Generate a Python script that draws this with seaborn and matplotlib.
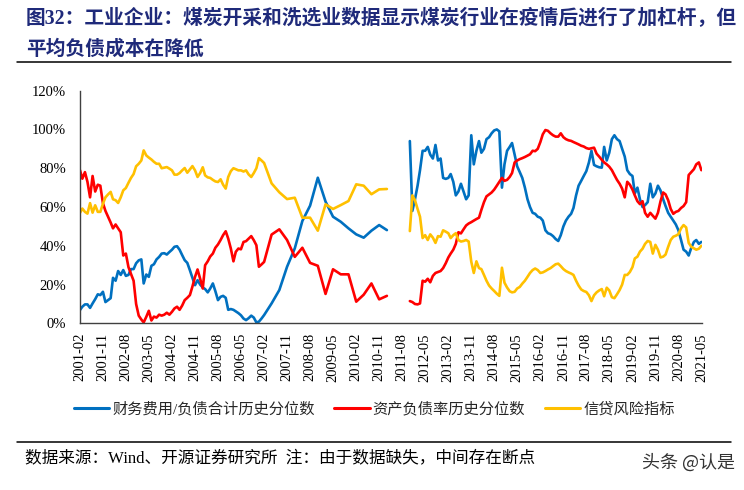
import pandas as pd
import matplotlib
matplotlib.use("Agg")
import matplotlib.pyplot as plt
from matplotlib.lines import Line2D
from matplotlib.ticker import FuncFormatter
import seaborn as sns

# series names and colours
names = ["财务费用/负债合计历史分位数", "资产负债率历史分位数", "信贷风险指标"]
colors = ["#0070C0", "#FF0000", "#FFC000"]

# x values: monthly 2001-02..2007-02, quarterly to 2011-02, gap, monthly 2011-11..2021-05
early_monthly = pd.date_range("2001-02-01", "2007-02-01", freq="MS")
early_quarterly = pd.date_range("2007-05-01", "2011-02-01", freq="3MS")
late_monthly = pd.date_range("2011-11-01", "2021-05-01", freq="MS")
tick_dates = pd.date_range("2001-02-01", "2021-05-01", freq="9MS")

# 财务费用/负债合计历史分位数 (%)
blue_early = [6.9, 8.6, 9.8, 9.8, 8.0, 10.3, 12.5, 15.0, 14.6, 16.3,
              11.0, 12.0, 13.0, 23.5, 22.0, 27.0, 25.0, 27.5, 24.5, 25.0,
              28.0, 28.0, 31.0, 32.5, 33.0, 20.6, 25.2, 24.0, 29.7, 30.5,
              33.0, 34.3, 36.0, 36.2, 35.5, 36.8, 38.0, 39.5, 39.8, 38.0,
              35.2, 32.6, 31.2, 27.4, 23.5, 19.7, 22.3, 20.0, 18.5, 17.7,
              16.0, 18.0, 20.6, 16.6, 12.0, 13.7, 14.2, 13.2, 7.0, 7.4,
              7.0, 6.2, 5.3, 4.2, 2.5, 1.7, 2.7, 4.0, 3.0, 0.5,
              0.9, 2.5, 4.3]
blue_quarterly = [10.3, 17.2, 29.2, 38.7, 52.8, 60.7, 75.1, 62.8,
                  55.0, 52.4, 49.0, 45.9, 44.2, 47.8, 50.7, 48.1]
blue_late = [94, 58, 64, 71, 79, 89, 89, 91, 87, 85,
             92, 84, 85, 75, 74.5, 75, 77, 73, 66, 68,
             72, 68, 64, 66, 97, 82, 89, 94, 88, 90,
             95, 96, 98, 99.5, 100, 99, 70, 82, 89, 91,
             93, 87, 81, 78, 75, 70, 64, 60, 57, 56.5,
             55, 54.5, 53, 48, 46.5, 46, 45, 43.5, 42.5, 45.5,
             50, 53, 55, 56.5, 59.5, 66, 71, 73.5, 76, 78.5,
             83, 89, 81.7, 81, 80.5, 80.3, 91, 84, 88, 95,
             97, 95, 94, 90, 86, 79, 77, 76, 67, 70,
             64, 60, 61, 62.5, 72, 65, 67, 71, 68.5, 64,
             60.5, 57, 55, 53, 51, 48, 43, 38, 37, 35,
             39, 42, 43, 41, 42]

# 资产负债率历史分位数 (%)
red_early = [79, 74.6, 78, 73, 65, 76, 68, 71.5, 71, 62,
             58, 55, 52, 49, 51, 49, 47, 35, 36, 29,
             25.5, 22, 10, 4, 2, 0.5, 3.4, 6.5, 1.5, 3.5,
             3, 4.5, 4, 4.5, 5.5, 4.5, 6, 7.7, 8.6, 7,
             9.2, 12, 13.2, 14.6, 19, 24, 27.8, 23, 18, 30,
             32, 34.5, 36, 39, 40.7, 43, 45.5, 47.5, 43.7, 38.6,
             32, 36.9, 38.6, 38.2, 42, 42.4, 43.7, 45, 42.9, 40.3,
             29.2, 30.4, 31.7]
red_quarterly = [45.8, 48.5, 43.0, 34.3, 39.0, 31.2, 29.7, 15.2,
                 27.9, 25.3, 25.3, 11.2, 14.8, 20.6, 12.4, 14.2]
red_late = [11.5, 11, 10, 9.8, 10.3, 22, 21.5, 23, 21.2, 24.5,
            26, 26.5, 27, 28.5, 31, 34, 36, 38, 41, 47,
            46.4, 48.5, 50.5, 51.5, 52.2, 53, 53.8, 54.5, 58.5, 62.5,
            65.5, 66.5, 67.5, 69, 71, 73, 75, 73.5, 74, 75.5,
            77.5, 83, 84, 84.7, 85.2, 85.8, 86.5, 87.2, 89, 88.8,
            90, 93.5, 97.5, 99.7, 99.3, 98, 97, 96.3, 96.3, 98,
            96, 95, 94.4, 94.1, 93.5, 92.9, 92.3, 91.6, 91.2, 90.4,
            90, 90.3, 90.6, 87.5, 86, 84.3, 83, 82, 80.8, 79,
            76.5, 74, 72, 69.5, 65, 73, 71.5, 69, 66, 63,
            61.5, 63, 57, 55, 57, 55.5, 54, 57, 63, 67.5,
            66.5, 63.5, 59, 56.5, 57.5, 58, 59.5, 60.5, 62.5, 76.5,
            78, 79.5, 82, 83, 79]

# 信贷风险指标 (%)
yellow_early = [57, 59.2, 57.5, 56.6, 62, 57.1, 60.9, 57.5, 57.5, 61.7,
                65, 66.5, 67.8, 64, 63.5, 62.1, 65, 68.6, 69.8, 72.5,
                75, 77, 81, 82.3, 84, 89.2, 86.6, 85.5, 84.5, 83.3,
                82.3, 82.3, 80, 80.3, 80.6, 79.8, 78.9, 76.7, 76.7, 77.5,
                78.9, 80.1, 77.7, 79.4, 81.1, 78.9, 75.5, 77.5, 80.5, 76.3,
                75.3, 75, 74, 73.2, 72.9, 74.3, 71.5, 69.5, 75.5, 78.5,
                80, 79.5, 78.9, 78.9, 78.3, 78.9, 76.8, 75.5, 77.5, 80,
                85.2, 84, 82.7]
yellow_quarterly = [72.2, 67.6, 64.1, 64.8, 54.5, 54.5, 47.8, 61.4,
                    59.0, 61.0, 63.1, 71.7, 71.0, 66.6, 69.1, 69.3]
yellow_late = [47.6, 66, 63.5, 59, 55, 44, 45.5, 43, 45.9, 44.2,
               41.5, 45, 44.7, 48, 47.3, 46.5, 44, 45.5, 46.5, 43,
               42.2, 42.5, 43, 42.2, 31.8, 26, 32, 28.5, 28, 25,
               22, 19.5, 18, 16.7, 15.3, 14.2, 28.7, 21, 18.5, 16.6,
               16, 16.3, 18, 18.8, 20.5, 22, 24, 26, 27.5, 28.3,
               27.5, 26, 26.3, 27, 27.8, 28.5, 29.5, 30.5, 30.8, 29.5,
               28, 27, 26.3, 25.7, 25, 22, 19.5, 17.5, 16.7, 16.2,
               14.5, 11.5, 14.5, 16, 17, 17.7, 14, 18.4, 17, 13.5,
               13, 15, 17.2, 20, 25, 25, 26.5, 29, 33.5, 34.4,
               37, 38.5, 41, 42.5, 42, 36, 40.5, 38, 34, 34.4,
               35.5, 39.5, 43, 44.7, 45.2, 46, 49, 50.7, 49.5, 41.5,
               39.5, 38.7, 38, 38.5, 40]

title_lines = ["图32：工业企业：煤炭开采和洗选业数据显示煤炭行业在疫情后进行了加杠杆，但",
               "平均负债成本在降低"]
source_text = "数据来源：Wind、开源证券研究所  注：由于数据缺失，中间存在断点"
watermark = "头条 @认是"


def build_frame():
    """
    Long table: one row per point, a segment id so the gap is not bridged.
    """
    early_dates = early_monthly.append(early_quarterly)
    series = [(blue_early + blue_quarterly, blue_late),
              (red_early + red_quarterly, red_late),
              (yellow_early + yellow_quarterly, yellow_late)]
    frames = []
    for name, (early, late) in zip(names, series):
        frames.append(pd.DataFrame({"date": early_dates, "value": early,
                                    "series": name, "segment": 1}))
        frames.append(pd.DataFrame({"date": late_monthly, "value": late,
                                    "series": name, "segment": 2}))
    return pd.concat(frames, ignore_index=True)


def main():
    sns.set_style("white")
    plt.rcParams["font.family"] = ["Liberation Serif", "Noto Sans CJK SC"]

    df = build_frame()

    fig = plt.figure(figsize=(7.44, 4.90), dpi=100)
    ax = fig.add_axes([0.1075, 0.340, 0.836, 0.475])

    sns.lineplot(data=df, x="date", y="value", hue="series", units="segment",
                 estimator=None, sort=False, palette=dict(zip(names, colors)),
                 linewidth=1.9, legend=False, ax=ax)

    ax.set_ylim(0, 120)
    ax.set_yticks(range(0, 121, 20))
    ax.yaxis.set_major_formatter(FuncFormatter(lambda v, _: f"{v:.0f}%"))
    ax.set_xlim(pd.Timestamp("2001-02-01"), pd.Timestamp("2021-05-08"))
    ax.set_xticks(tick_dates)
    ax.set_xticklabels([d.strftime("%Y-%m") for d in tick_dates], rotation=90)
    ax.set_xlabel("")
    ax.set_ylabel("")

    for side in ["top", "right"]:
        ax.spines[side].set_visible(False)
    for side in ["left", "bottom"]:
        ax.spines[side].set_color("#404040")
        ax.spines[side].set_linewidth(1.0)
    ax.tick_params(direction="in", length=4, width=1, color="#404040",
                   labelsize=10.5, labelcolor="black")
    ax.tick_params(axis="y", pad=10)
    ax.tick_params(axis="x", pad=7)

    # legend below the x labels
    handles = [Line2D([0], [0], color=c, lw=2.2) for c in colors]
    fig.legend(handles, names, loc="center", bbox_to_anchor=(0.503, 0.165),
               ncol=3, frameon=False, fontsize=11, handlelength=2.3,
               handletextpad=0.2, columnspacing=1.3)

    # title
    fig.text(0.035, 0.961, title_lines[0], fontsize=14.2, fontweight="bold",
             color="#1f2a7a", va="center", ha="left")
    fig.text(0.035, 0.898, title_lines[1], fontsize=14.2, fontweight="bold",
             color="#1f2a7a", va="center", ha="left")

    # rules
    fig.add_artist(Line2D([0.023, 0.983], [0.8735, 0.8735], color="black", lw=1.1))
    fig.add_artist(Line2D([0.023, 0.983], [0.098, 0.098], color="black", lw=1.1))

    # footer
    fig.text(0.034, 0.065, source_text, fontsize=12, color="black",
             va="center", ha="left")
    fig.text(0.988, 0.055, watermark, fontsize=13, color="#333333",
             va="center", ha="right", family=["Noto Sans CJK SC", "DejaVu Sans"])

    fig.savefig("out.png", dpi=100)


if __name__ == "__main__":
    main()
